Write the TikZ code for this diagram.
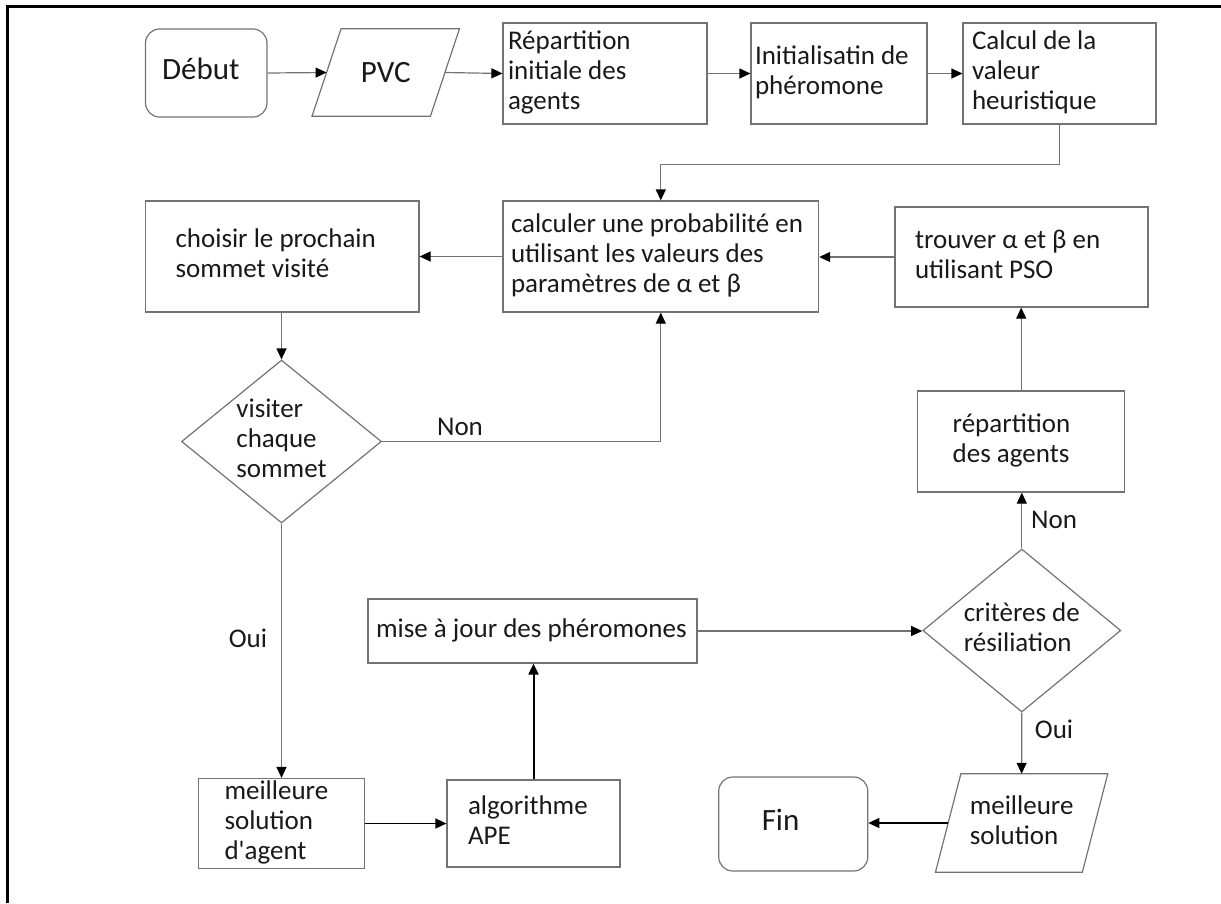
\documentclass[tikz,border=0pt]{standalone}
\usepackage{fontspec}
\setmainfont{Carlito}
\usetikzlibrary{arrows.meta,shapes.geometric,calc}
\definecolor{linec}{RGB}{115,115,115}
\definecolor{txtc}{RGB}{25,25,25}
\newcommand\bxt[3]{\makebox[#1][l]{\hspace*{#2}\begin{tabular}{@{}l@{}}#3\end{tabular}}}
\begin{document}
\begin{tikzpicture}[x=1pt,y=-1pt,
  every node/.style={text=txtc},
  box/.style={draw=linec, line width=1.2pt, rectangle, inner sep=0pt, font=\fontsize{27}{30}\selectfont},
  term/.style={box, rounded corners=14pt, font=\fontsize{31}{34}\selectfont},
  paranode/.style={rectangle, inner sep=0pt},
  paraline/.style={draw=linec, line width=1.2pt},
  dec/.style={diamond, draw=linec, line width=1.2pt, inner sep=-10pt, shape aspect=1.23, font=\fontsize{27}{30}\selectfont},
  lbl/.style={font=\fontsize{27}{30}\selectfont, inner sep=0pt},
  arr/.style={draw=linec, line width=1.2pt, -{Triangle[length=11pt,width=10pt,color=black]}},
  barr/.style={draw=black, line width=1.5pt, -{Triangle[length=11pt,width=10pt,color=black]}}
]
\useasboundingbox (0,0) rectangle (1221,903);
% frame (top and left only)
\draw[line width=3pt, black] (1221,6) -- (7,6) -- (7,903);

% top row
\node[term, minimum width=121.5pt, minimum height=88pt] (debut) at (206.25,73) {\bxt{121.5pt}{16.5pt}{Début}};
\node[paranode, minimum width=118pt, minimum height=87pt, font=\fontsize{31}{34}\selectfont] (pvc) at (385.75,72.5) {PVC};
\draw[paraline] ($(pvc.south west)+(-14.5,0)$) -- ($(pvc.south east)+(-14.5,0)$) -- ($(pvc.north east)+(14.5,0)$) -- ($(pvc.north west)+(14.5,0)$) -- cycle;
\node[box, minimum width=204pt, minimum height=101pt] (rep) at (605,73.5) {\bxt{204pt}{5pt}{Répartition\\initiale des\\agents}};
\node[box, minimum width=176pt, minimum height=101pt] (init) at (839,73.5) {\bxt{176pt}{4pt}{Initialisatin de\\phéromone}};
\node[box, minimum width=193pt, minimum height=101pt] (calc) at (1059.5,73.5) {\bxt{193pt}{9pt}{Calcul de la\\valeur\\heuristique}};

% second row
\node[box, minimum width=315.6pt, minimum height=111pt] (prob) at (660.8,256.5) {\bxt{315.6pt}{8pt}{calculer une probabilité en\\utilisant les valeurs des\\paramètres de α et β}};
\node[box, minimum width=273.5pt, minimum height=111pt] (chois) at (282.25,256.5) {\bxt{273.5pt}{30pt}{choisir le prochain\\sommet visité}};
\node[box, minimum width=253pt, minimum height=100pt] (trouv) at (1021.5,257) {\bxt{253pt}{20pt}{trouver α et β en\\utilisant PSO}};

% middle
\node[dec, minimum width=200pt, minimum height=163pt] (visit) at (281.5,441.5) {\begin{tabular}{@{}l@{}}visiter\\chaque\\sommet\end{tabular}};
\node[box, minimum width=207pt, minimum height=101pt] (repag) at (1021.2,441.5) {\bxt{207pt}{35pt}{répartition\\des agents}};
\node[box, minimum width=329pt, minimum height=64pt] (maj) at (532.5,631) {\bxt{329pt}{8pt}{mise à jour des phéromones}};
\node[dec, minimum width=198pt, minimum height=163pt] (crit) at (1021.8,630.5) {\begin{tabular}{@{}l@{}}critères de\\résiliation\end{tabular}};

% bottom row
\node[box, minimum width=166pt, minimum height=87pt] (dag) at (281.5,823.5) {\bxt{166pt}{26pt}{meilleure\\solution\\d\textquotesingle agent}};
\node[box, minimum width=173pt, minimum height=87pt] (ape) at (533.5,823.5) {\bxt{173pt}{21pt}{algorithme\\APE}};
\node[paranode, minimum width=146.5pt, minimum height=98pt, font=\fontsize{27}{30}\selectfont] (meil) at (1021.6,823) {\begin{tabular}{@{}l@{}}meilleure\\solution\end{tabular}};
\draw[paraline] ($(meil.south west)+(-12.7,0)$) -- ($(meil.south east)+(-12.7,0)$) -- ($(meil.north east)+(12.7,0)$) -- ($(meil.north west)+(12.7,0)$) -- cycle;
\node[term, minimum width=149pt, minimum height=94pt] (fin) at (793.25,824) {\bxt{149pt}{43pt}{Fin}};

% labels
\node[lbl] (non1) at (460,427) {Non};
\node[lbl] (oui1) at (248,638) {Oui};
\node[lbl] (non2) at (1054,520) {Non};
\node[lbl] (oui2) at (1054,729) {Oui};

% connectors
\draw[arr] (debut.east) -- (pvc.west);
\draw[arr] (pvc.east) -- (rep.west);
\draw[arr] (rep.east) -- (init.west);
\draw[arr] (init.east) -- (calc.west);
\draw[arr] (calc.south) -- ++(0,39.5) -| (prob.north);
\draw[arr] (prob.west) -- (prob.west -| chois.east);
\draw[arr] (trouv.west) -- (trouv.west -| prob.east);
\draw[arr] (visit.north |- chois.south) -- (visit.north);
\draw[arr] (visit.east) -| (prob.south);
\draw[arr] (visit.south) -- (dag.north);
\draw[barr] (dag.east) -- (ape.west);
\draw[barr, line width=2pt] (ape.north) -- (ape.north |- maj.south);
\draw[arr] (maj.east) -- (maj.east -| crit.west);
\draw[arr] (crit.north) -- (crit.north |- repag.south);
\draw[arr] (repag.north) -- (repag.north |- trouv.south);
\draw[arr] (crit.south) -- (meil.north);
\draw[barr] (meil.west) -- (meil.west -| fin.east);
\end{tikzpicture}
\end{document}
